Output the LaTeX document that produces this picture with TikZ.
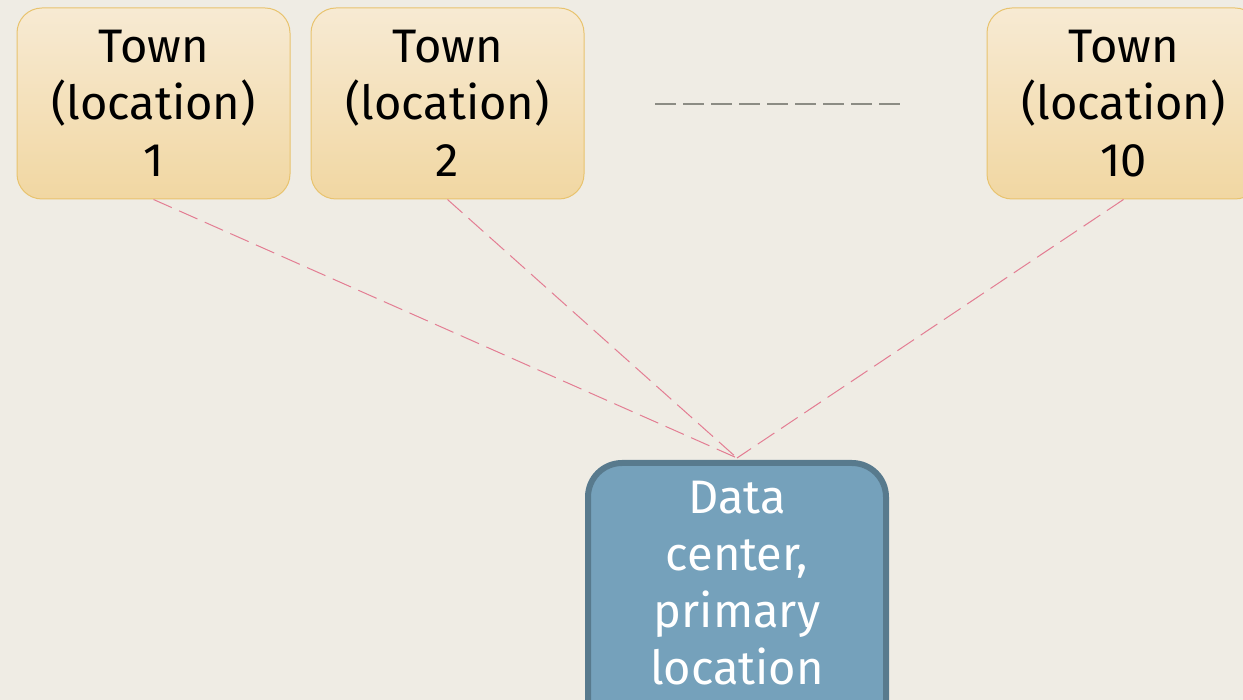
\documentclass[tikz,border=0pt]{standalone}
\usepackage{fontspec}
\setmainfont{Fira Sans}
\usetikzlibrary{positioning}
\definecolor{bgc}{HTML}{EFECE4}
\definecolor{towntop}{HTML}{F7EAD3}
\definecolor{townbot}{HTML}{F1D7A2}
\definecolor{townline}{HTML}{E8C36E}
\definecolor{dcfill}{HTML}{75A1BB}
\definecolor{dcline}{HTML}{587A8D}
\definecolor{pinkline}{HTML}{E37D93}
\definecolor{grayline}{HTML}{8C8C84}
\tikzset{
  x=1pt, y=-1pt,
  town/.style={draw=townline, line width=1pt, rounded corners=25pt,
    top color=towntop, bottom color=townbot, minimum width=273pt,
    minimum height=191pt, inner sep=0pt, align=center,
    font=\fontsize{47}{57}\selectfont, text=black},
  dc/.style={draw=dcline, line width=6pt, rounded corners=34pt, fill=dcfill,
    minimum width=298pt, minimum height=280pt, inner sep=0pt, align=center,
    font=\fontsize{47}{57}\selectfont, text=white},
  link/.style={draw=pinkline, line width=1pt, dash pattern=on 20pt off 8pt},
  ellip/.style={draw=grayline, line width=1.4pt, dash pattern=on 21pt off 7pt}
}
\begin{document}
\begin{tikzpicture}
\fill[bgc] (0,0) rectangle (1243,700);
\clip (0,0) rectangle (1243,700);
\useasboundingbox (0,0) rectangle (1243,700);
\node[town] (t1) at (153.5,103.5) {Town\\(location)\\1};
\node[town] (t2) at (447.5,103.5) {Town\\(location)\\2};
\node[town] (t10) at (1123.5,103.5) {Town\\(location)\\10};
\node[dc, anchor=north] (dc) at (737,460) {};
\node[font=\fontsize{47}{57}\selectfont, text=white, align=center, anchor=north] (dct) at (737,478) {Data\\center,\\primary\\location};
\coordinate (e1) at (655,104);
\coordinate (e2) at (902,104);
\draw[ellip] (e1) -- (e2);
\draw[link] (t1.south) -- ([yshift=2pt]dc.north);
\draw[link] (t2.south) -- ([yshift=2pt]dc.north);
\draw[link] (t10.south) -- ([yshift=2pt]dc.north);
\end{tikzpicture}
\end{document}
